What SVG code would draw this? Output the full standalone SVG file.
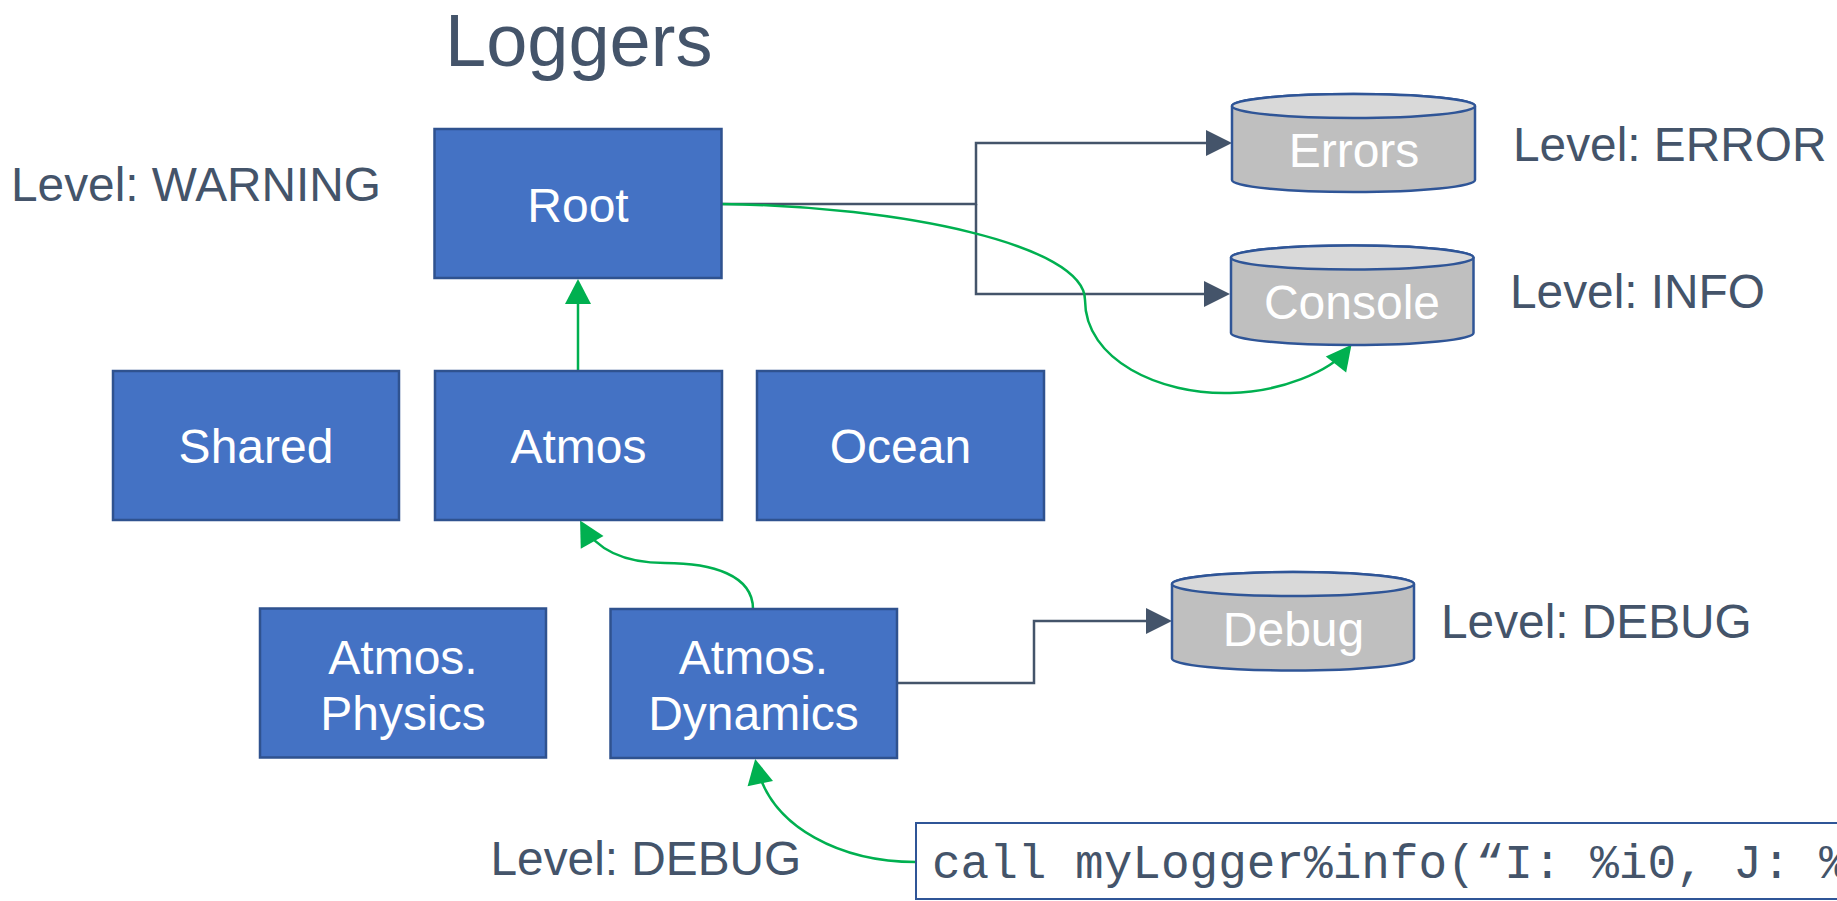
<svg xmlns="http://www.w3.org/2000/svg" width="1837" height="901" viewBox="0 0 1837 901">
<style>
.box{fill:#4472C4;stroke:#2F528F;stroke-width:2.5}
.bt{font-family:"Liberation Sans",Arial,sans-serif;font-size:48px;fill:#FFFFFF;text-anchor:middle}
.lbl{font-family:"Liberation Sans",Arial,sans-serif;font-size:47.8px;fill:#44546A}
.cyl{fill:#BFBFBF;stroke:#2F5597;stroke-width:2.5}
.cyltop{fill:#D9D9D9;stroke:#2F5597;stroke-width:2.5}
.dark{fill:none;stroke:#44546A;stroke-width:2.5}
.green{fill:none;stroke:#00B050;stroke-width:2.5}
.code{font-family:"Liberation Mono","Courier New",monospace;font-size:47.7px;fill:#44546A}
</style>
<defs>
<marker id="ad" markerUnits="userSpaceOnUse" markerWidth="28" markerHeight="28" refX="22" refY="13" orient="auto" overflow="visible">
<path d="M0,0 L26,13 L0,26 Z" fill="#44546A"/>
</marker>
<marker id="ag" markerUnits="userSpaceOnUse" markerWidth="28" markerHeight="28" refX="21" refY="13" orient="auto" overflow="visible">
<path d="M0,0 L25,13 L0,26 Z" fill="#00B050"/>
</marker>
</defs>
<rect width="1837" height="901" fill="#FFFFFF"/>
<text class="lbl" x="445" y="66" style="font-size:74px">Loggers</text>
<text class="lbl" x="11" y="201">Level: WARNING</text>
<text class="lbl" x="1513" y="161">Level: ERROR</text>
<text class="lbl" x="1510" y="308">Level: INFO</text>
<text class="lbl" x="1441" y="638">Level: DEBUG</text>
<text class="lbl" x="490.5" y="875">Level: DEBUG</text>
<g id="connectors">
<path class="dark" d="M721,204 H976 V143 H1228" marker-end="url(#ad)"/>
<path class="dark" d="M976,204 V294 H1226" marker-end="url(#ad)"/>
<path class="dark" d="M897,683 H1034 V621 H1168" marker-end="url(#ad)"/>
<path class="green" d="M578,370 V283" marker-end="url(#ag)"/>
<path class="green" d="M721,204 C900,206 1085,245 1085,300 C1085,360 1160,395 1230,393 C1280,392 1330,372 1349,348" marker-end="url(#ag)"/>
<path class="green" d="M753,609 C753,575 712,563 665,563 C628,563 598,553 582,524" marker-end="url(#ag)"/>
<path class="green" d="M916,862 C845,862 770,830 756,763" marker-end="url(#ag)"/>
</g>
<g id="root"><rect class="box" x="434.5" y="129" width="287" height="149"/><text class="bt" x="578" y="222">Root</text></g>
<g id="shared"><rect class="box" x="113" y="371" width="286" height="149"/><text class="bt" x="256" y="463">Shared</text></g>
<g id="atmos"><rect class="box" x="435" y="371" width="287" height="149"/><text class="bt" x="578.5" y="463">Atmos</text></g>
<g id="ocean"><rect class="box" x="757" y="371" width="287" height="149"/><text class="bt" x="900.5" y="463">Ocean</text></g>
<g id="atmos-physics"><rect class="box" x="260" y="608.5" width="286" height="149"/><text class="bt" x="403" y="673.5">Atmos.</text><text class="bt" x="403" y="730">Physics</text></g>
<g id="atmos-dynamics"><rect class="box" x="610.5" y="609" width="286.5" height="149"/><text class="bt" x="753.5" y="673.5">Atmos.</text><text class="bt" x="753.5" y="730">Dynamics</text></g>
<g id="errors">
<path class="cyl" d="M1232,106 V180 A121.5,12 0 0 0 1475,180 V106 A121.5,12 0 0 0 1232,106 Z"/>
<ellipse class="cyltop" cx="1353.5" cy="106" rx="121.5" ry="12"/>
<text class="bt" x="1354" y="167">Errors</text>
</g>
<g id="console">
<path class="cyl" d="M1231,257.5 V333 A121.25,12 0 0 0 1473.5,333 V257.5 A121.25,12 0 0 0 1231,257.5 Z"/>
<ellipse class="cyltop" cx="1352.25" cy="257.5" rx="121.25" ry="12"/>
<text class="bt" x="1352" y="319">Console</text>
</g>
<g id="debug">
<path class="cyl" d="M1172,584 V658.5 A121,12 0 0 0 1414,658.5 V584 A121,12 0 0 0 1172,584 Z"/>
<ellipse class="cyltop" cx="1293" cy="584" rx="121" ry="12"/>
<text class="bt" x="1293.5" y="646">Debug</text>
</g>
<g id="code">
<rect x="916" y="823" width="1000" height="76" fill="#FFFFFF" stroke="#2F5597" stroke-width="2"/>
<text class="code" x="932" y="878">call myLogger%info(“I: %i0, J: %</text>
</g>
</svg>
